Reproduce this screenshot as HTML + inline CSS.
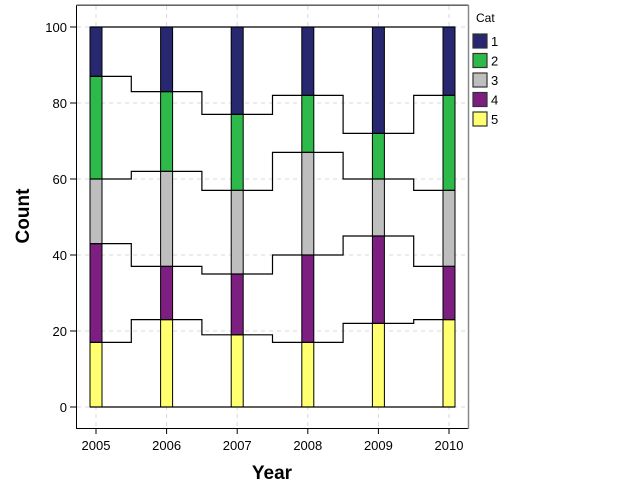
<!DOCTYPE html>
<html><head><meta charset="utf-8"><style>body{margin:0;background:#fff}svg{display:block}text{font-family:"Liberation Sans",sans-serif}</style></head>
<body>
<svg width="625" height="500" viewBox="0 0 625 500" xmlns="http://www.w3.org/2000/svg">
<rect x="0" y="0" width="625" height="500" fill="#fff"/>
<g id="grid" stroke="#d8d8d8" stroke-dasharray="4,4" stroke-width="1"></g>
<g id="bars"></g>
<g id="steps" fill="none" stroke="#000" stroke-width="1.2"></g>
<rect x="76.5" y="5.5" width="392" height="423" fill="none" stroke="#000" stroke-width="1"/>
<line x1="76.5" y1="5" x2="468.5" y2="5" stroke="#888" stroke-width="1.5"/>
<line x1="468.5" y1="5" x2="468.5" y2="429" stroke="#888" stroke-width="1.5"/>
<g id="axes" font-size="13" fill="#000"></g>
<text x="272" y="479" font-size="19" font-weight="bold" text-anchor="middle">Year</text>
<text transform="translate(29,216) rotate(-90)" font-size="19" font-weight="bold" text-anchor="middle">Count</text>
<text x="476" y="22" font-size="12">Cat</text>
<g id="legend" font-size="13"></g>
<script>
var ns="http://www.w3.org/2000/svg";
function el(p,t,a,txt){var e=document.createElementNS(ns,t);for(var k in a)e.setAttribute(k,a[k]);if(txt!==undefined)e.textContent=txt;document.getElementById(p).appendChild(e);return e;}
function Y(v){return 407-3.8*v;}
var cx=[96,166.6,237.2,307.8,378.4,449];
var yrs=[2005,2006,2007,2008,2009,2010];
var cum=[[17,43,60,87,100],[23,37,62,83,100],[19,35,57,77,100],[17,40,67,82,100],[22,45,60,72,100],[23,37,57,82,100]];
var cols=["#ffff70","#7d1f80","#bebebe","#2eb94b","#27286f"];
for(var v=0;v<=100;v+=20){el("grid","line",{x1:77,x2:468,y1:Y(v),y2:Y(v)});
el("axes","line",{x1:70,x2:76.5,y1:Y(v),y2:Y(v),stroke:"#000"});
el("axes","text",{x:67,y:Y(v)+5,"text-anchor":"end"},v);}
cx.forEach(function(x,i){el("grid","line",{x1:x,x2:x,y1:6,y2:428});
el("axes","line",{x1:x,x2:x,y1:429,y2:434,stroke:"#000"});
el("axes","text",{x:x,y:450,"text-anchor":"middle"},yrs[i]);
var prev=0;for(var j=0;j<5;j++){var c=cum[i][j];el("bars","rect",{x:x-6,y:Y(c),width:12,height:Y(prev)-Y(c),fill:cols[j],stroke:"#000","stroke-width":1});prev=c;}});
for(var j=-1;j<5;j++){var d="";for(var i=0;i<6;i++){var v=j<0?0:cum[i][j];var l=i==0?cx[0]-6:(cx[i-1]+cx[i])/2;var r=i==5?cx[5]+6:(cx[i]+cx[i+1])/2;d+=(i==0?"M":"L")+l+","+Y(v)+"L"+r+","+Y(v);}el("steps","path",{d:d});}
var lc=["#27286f","#2eb94b","#bebebe","#7d1f80","#ffff70"];
for(var k=0;k<5;k++){var y=34+k*19.5;el("legend","rect",{x:473,y:y,width:14,height:14,fill:lc[k],stroke:"#333","stroke-width":1.2});el("legend","text",{x:491,y:y+12},k+1);}
</script>
</svg>
</body></html>
